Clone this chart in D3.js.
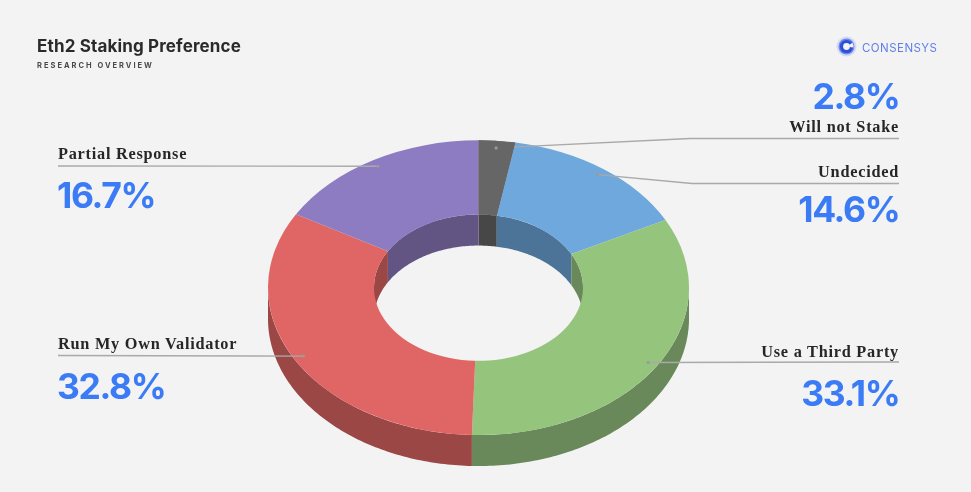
<!DOCTYPE html>
<html><head><meta charset="utf-8">
<script src="https://cdnjs.cloudflare.com/ajax/libs/d3/7.8.5/d3.min.js"></script>
<style>html,body{margin:0;padding:0;background:#f3f3f3;overflow:hidden}svg{display:block;filter:blur(.4px)}text{font-kerning:normal}</style>
</head><body><svg id="c" width="971" height="492"></svg>
<script>
const categories = ["Will not Stake","Undecided","Use a Third Party","Run My Own Validator","Partial Response"];
const values = [2.8,14.6,33.1,32.8,16.7];
const chartTitle = "Eth2 Staking Preference";
const subtitle = "RESEARCH OVERVIEW";
const brand = "CONSENSYS";

const topColors = ["#666666","#6fa8dc","#95c47d","#e06666","#8e7cc3"];
const wallColors = ["#474747","#4c7499","#69895a","#9a4745","#625584"];
// label layout: side, leader elbow x, rule y, name baseline, value baseline
const labelLayout = [
  {side:"r",elbow:690,rule:138.5,name:132,val:108.5},
  {side:"r",elbow:692,rule:183.5,name:177,val:221.5},
  {side:"r",elbow:null,rule:362,name:357,val:405.5},
  {side:"l",elbow:null,rule:355.5,name:349,val:398.5},
  {side:"l",elbow:null,rule:166,name:159,val:207.5}
];

const svg = d3.select("#c");
const cx=478.5, cy=287.7, R=210.5, r=104.5, k=0.7, depth=31, leaderR=200.5;
const leftX=58, rightX=899;
const SANS="Inter, 'Open Sans', sans-serif", SERIF="'Liberation Serif', serif";

const arcs = d3.pie().sort(null).value(d=>d)(values);
const pt=(rad,a,dy=0)=>[cx+rad*Math.sin(a), cy-rad*k*Math.cos(a)+dy];
const line=d3.line();
const TAU=Math.PI*2;
const samples=(a0,a1)=>{const n=Math.max(2,Math.ceil((a1-a0)*60));return d3.range(n+1).map(i=>a0+(a1-a0)*i/n);};

function wall(rad,a0,a1){
  const as=samples(a0,a1);
  return line(as.map(a=>pt(rad,a)).concat(as.slice().reverse().map(a=>pt(rad,a,depth))))+"Z";
}
const arcGen=d3.arc().innerRadius(r).outerRadius(R);
const surfaceTransform=`translate(${cx},${cy}) scale(1,${k})`;

// inner wall: the far side of the hole
const innerWall=svg.append("g");
arcs.forEach((d,i)=>{
  [[d.startAngle,d.endAngle],[d.startAngle-TAU,d.endAngle-TAU]].forEach(([s,e])=>{
    const a0=Math.max(s,-Math.PI/2), a1=Math.min(e,Math.PI/2);
    if(a1>a0) innerWall.append("path").attr("d",wall(r,a0,a1)).attr("fill",wallColors[i]);
  });
});
// outer wall: near side
const outerWall=svg.append("g");
arcs.forEach((d,i)=>{
  const a0=Math.max(d.startAngle,Math.PI/2), a1=Math.min(d.endAngle,Math.PI*1.5);
  if(a1>a0) outerWall.append("path").attr("d",wall(R,a0,a1)).attr("fill",wallColors[i]);
});
// top surface
const surface=svg.append("g").attr("transform",surfaceTransform);
arcs.forEach((d,i)=>surface.append("path").attr("d",arcGen(d)).attr("fill",topColors[i]));

// leaders
const leaders=svg.append("g");
arcs.forEach((d,i)=>{
  const L=labelLayout[i], mid=(d.startAngle+d.endAngle)/2, p=pt(leaderR,mid);
  const end=L.side==="r"?rightX:leftX;
  const pts=L.elbow?[p,[L.elbow,L.rule],[end,L.rule]]:[p,[end,L.rule]];
  leaders.append("path").attr("d",line(pts)).attr("fill","none").attr("stroke","#a9a9a9").attr("stroke-width",1.4);
});
// the smallest slice covers its leader
svg.append("g").attr("transform",surfaceTransform).append("path").attr("d",arcGen(arcs[0])).attr("fill",topColors[0]);
arcs.forEach((d,i)=>{
  const p=pt(leaderR,(d.startAngle+d.endAngle)/2);
  svg.append("circle").attr("cx",p[0]).attr("cy",p[1]).attr("r",1.6).attr("fill","#9a9a9a");
});

// labels
const fmt=v=>d3.format(".1f")(v)+"%";
categories.forEach((c,i)=>{
  const L=labelLayout[i], x=L.side==="r"?rightX:leftX, anchor=L.side==="r"?"end":"start";
  svg.append("text").attr("x",x).attr("y",L.name).attr("text-anchor",anchor)
    .attr("font-family",SERIF).attr("font-weight",700).attr("font-size",16.3).attr("letter-spacing",.75)
    .attr("fill","#262626").text(c);
  svg.append("text").attr("x",L.side==="r"?x+0.5:x-1).attr("y",L.val).attr("text-anchor",anchor)
    .attr("font-family",SANS).attr("font-weight",700).attr("font-size",35.5).attr("letter-spacing",-1.35)
    .attr("fill","#3b7cf6").text(fmt(values[i]));
});

// header
svg.append("text").attr("x",37).attr("y",52).attr("font-family",SANS).attr("font-weight",700)
  .attr("font-size",17).attr("letter-spacing",0.15).attr("fill","#2a2a2c").text(chartTitle);
svg.append("text").attr("x",37).attr("y",68).attr("font-family",SANS).attr("font-weight",700)
  .attr("font-size",7.5).attr("letter-spacing",2.0).attr("fill","#4a4a4e").text(subtitle);

// brand mark
const logo=svg.append("g").attr("transform","translate(846.5,46.5)");
logo.append("circle").attr("r",10).attr("fill","#d3daf6");
logo.append("circle").attr("r",8).attr("fill","#6f88e6");
logo.append("circle").attr("r",6.6).attr("fill","#2b4fd6");
logo.append("circle").attr("r",3.4).attr("fill","#f3f3f3");
logo.append("path").attr("d",d3.arc().innerRadius(3).outerRadius(7).startAngle(1.0).endAngle(1.7)()).attr("fill","#f3f3f3");
svg.append("text").attr("x",862).attr("y",51.5).attr("font-family",SANS).attr("font-weight",400)
  .attr("font-size",11.5).attr("letter-spacing",.45).attr("fill","#5f7fea").text(brand);
</script></body></html>
